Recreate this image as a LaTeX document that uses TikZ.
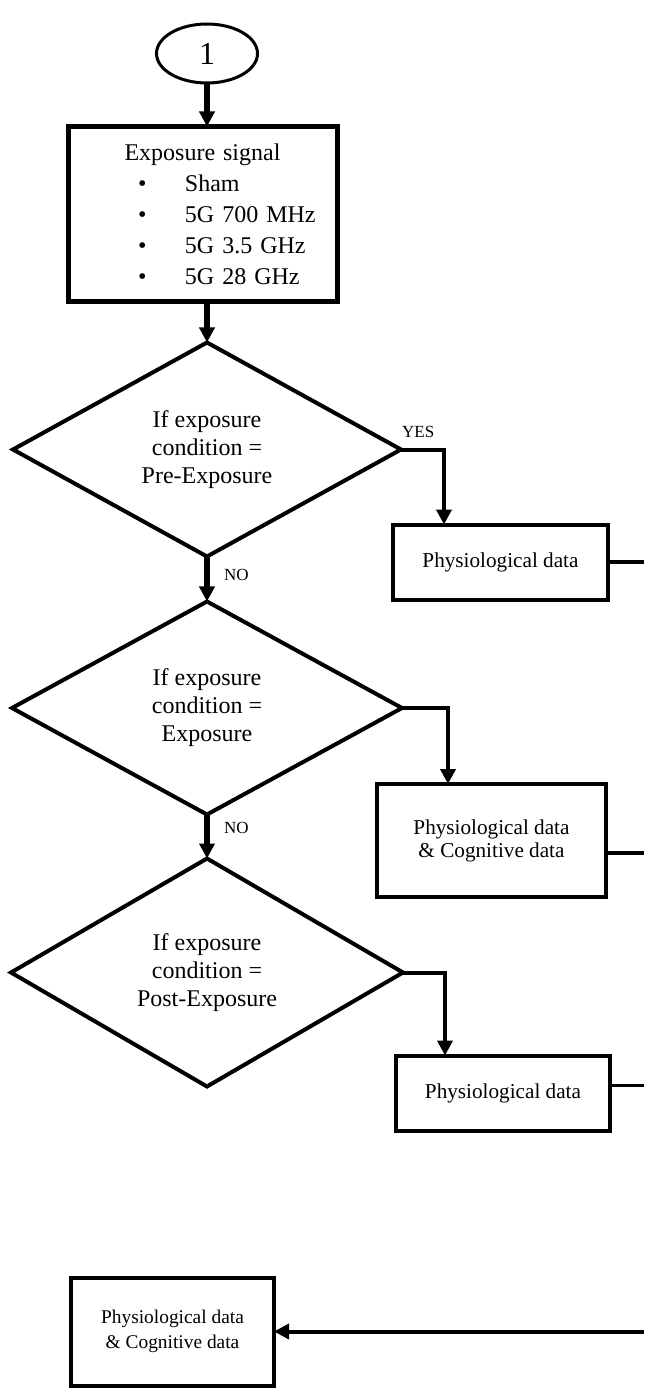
\documentclass[tikz,border=0pt]{standalone}
\usepackage{fontspec}
\setmainfont{Liberation Serif}
\usepackage{xcolor}
\usepackage{tikz}
\usetikzlibrary{shapes, arrows.meta, positioning, calc}
\definecolor{FlowInk}{HTML}{000000}
\newcommand{\sigitem}[1]{\makebox[134.5pt][l]{\hspace*{35pt}\makebox[23.5pt][l]{\textbullet}#1}}

\begin{document}
\begin{tikzpicture}[node distance=21pt, every node/.style={font=\fontsize{12}{14}\selectfont}]
      \tikzset{
        term/.style={ellipse, draw=FlowInk, line width=1.5pt, minimum width=50.5pt, minimum height=29.5pt, inner sep=0pt, outer sep=0pt, font=\fontsize{16}{18}\selectfont},
        sigbox/.style={rectangle, draw=FlowInk, line width=2.5pt, text width=134.5pt, minimum height=87.5pt, inner sep=0pt, outer sep=0pt, align=center, font=\fontsize{12}{15.5}\selectfont},
        test/.style={diamond, draw=FlowInk, line width=2pt, aspect=1.8, inner sep=0pt, outer sep=0pt, align=center},
        data/.style={rectangle, draw=FlowInk, line width=2pt, inner sep=0pt, outer sep=0pt, align=center, font=\fontsize{10.6}{11.5}\selectfont},
        flow/.style={-{Triangle[width=7.5pt, length=7.5pt]}, line width=3pt, color=FlowInk},
        branch/.style={-{Triangle[width=7.5pt, length=7.5pt]}, line width=2pt, color=FlowInk},
        link/.style={line width=1.8pt, color=FlowInk},
        flag/.style={font=\fontsize{8.5}{10}\selectfont, inner sep=1pt}
      }
      \useasboundingbox (0,0) rectangle (322pt,-695pt);
      \coordinate (rim) at (322pt,0);

      \node[term] (start) at (103.5pt,-26.75pt) {1};
      \node[sigbox, below=21.75pt of start, xshift=-2.25pt] (sig) {Exposure signal\\\sigitem{Sham}\\\sigitem{5G 700 MHz}\\\sigitem{5G 3.5 GHz}\\\sigitem{5G 28 GHz}};
      \node[test, below=20.5pt of sig, xshift=2.25pt, minimum width=194pt, minimum height=107pt] (pre) {If exposure\\condition =\\Pre-Exposure};
      \node[test, below=22.5pt of pre, minimum width=195pt, minimum height=106.5pt] (dur) {If exposure\\condition =\\Exposure};
      \node[test, below=22pt of dur, minimum width=196pt, minimum height=114pt] (post) {If exposure\\condition =\\Post-Exposure};

      \coordinate[right=21.5pt of pre.east] (turn1);
      \node[data, below=37.5pt of turn1, xshift=28.25pt, minimum width=107.5pt, minimum height=37.5pt] (pd1) {Physiological data};
      \coordinate[right=23pt of dur.east] (turn2);
      \node[data, below=38pt of turn2, xshift=21.75pt, minimum width=114.5pt, minimum height=56.5pt] (pd2) {Physiological data\\\& Cognitive data};
      \coordinate[right=21pt of post.east] (turn3);
      \node[data, below=41.5pt of turn3, xshift=29pt, minimum width=107pt, minimum height=37.5pt] (pd3) {Physiological data};
      \node[data, below=95.5pt of post, xshift=-17.25pt, minimum width=101.5pt, minimum height=54pt, font=\fontsize{9.7}{12.5}\selectfont] (pd4) {Physiological data\\\& Cognitive data};

      \draw[flow] (start) -- (start |- sig.north);
      \draw[flow] (pre |- sig.south) -- (pre);
      \draw[flow] (pre) -- node[flag, right=6pt, pos=0.4]{NO} (dur);
      \draw[flow] (dur) -- node[flag, right=6pt, pos=0.3]{NO} (post);
      \draw[branch] (pre.east) -- node[flag, above=4pt, pos=0.4]{YES} (turn1) -- (turn1 |- pd1.north);
      \draw[branch] (dur.east) -- (turn2) -- (turn2 |- pd2.north);
      \draw[branch] (post.east) -- (turn3) -- (turn3 |- pd3.north);
      \draw[link] (pd1.east) -- (pd1.east -| rim);
      \draw[link] ([yshift=-6.25pt]pd2.east) -- ([yshift=-6.25pt]pd2.east -| rim);
      \draw[link] ([yshift=3.75pt]pd3.east) -- ([yshift=3.75pt]pd3.east -| rim);
      \draw[branch] (pd4.east -| rim) -- (pd4.east);
    \end{tikzpicture}
\end{document}
